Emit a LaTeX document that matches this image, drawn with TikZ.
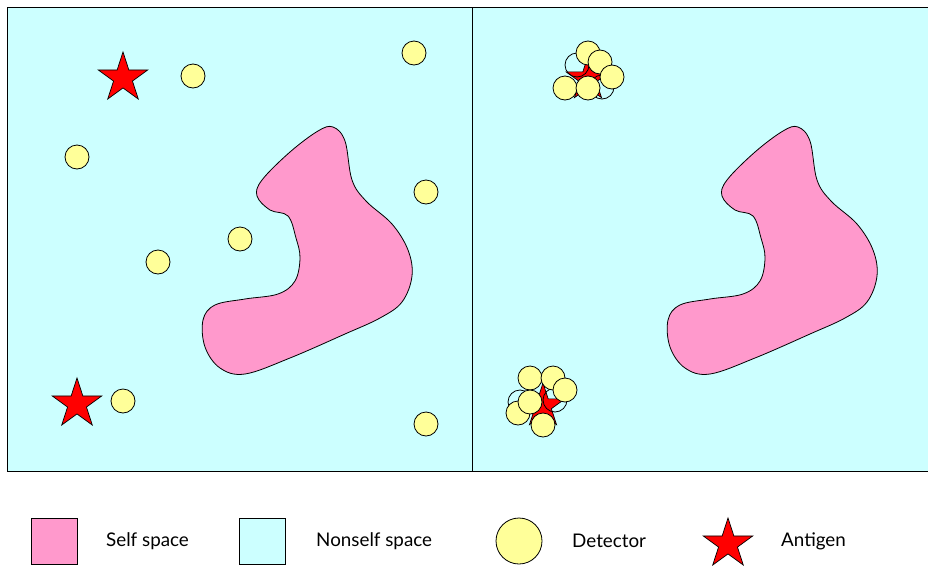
\documentclass[tikz,border=0pt]{standalone}
\usepackage{fontspec}
\setmainfont{Lato}
\usepackage{tikz}
\usetikzlibrary{shapes.geometric}

\definecolor{nonself}{HTML}{CCFFFF}
\definecolor{selfpink}{HTML}{FF99CC}
\definecolor{detyellow}{HTML}{FFFF99}

\tikzset{
  detector/.style={circle, draw, fill=detyellow, line width=0.8pt, inner sep=0pt, minimum size=24pt},
  ghost/.style={circle, draw, line width=0.8pt, inner sep=0pt, minimum size=24pt},
  antigen/.style={star, star points=5, star point ratio=2.618, draw, fill=red, line width=0.7pt, inner sep=0pt, minimum size=52pt},
  smallantigen/.style={antigen, minimum size=46pt},
  legendtext/.style={anchor=west, inner sep=0pt, font=\fontsize{18.8}{21}\selectfont}
}

% self region outline (left panel coordinates)
\def\selfblob{(333,127) (345,141) (352,180) (366,201) (392,224) (408,250) (412,276) (402,302) (380,318) (345,334) (290,358) (245,374) (220,368) (205,347) (203,320) (215,305) (245,299) (278,294) (295,281) (300,258) (296,238) (288,216) (270,210) (257,196) (262,180) (290,152) (318,131)}

\begin{document}
\begin{tikzpicture}[x=1pt, y=-1pt]
  \useasboundingbox (0,0) rectangle (928,565);

  % panels
  \fill[nonself] (7,7) rectangle (928,471);
  \draw[line width=1pt] (928,7) -- (7,7) -- (7,471) -- (928,471);
  \draw[line width=1pt] (472,7) -- (472,471);

  % self space, both panels
  \draw[fill=selfpink, line width=0.8pt] plot[smooth cycle, tension=0.6] coordinates {\selfblob};
  \draw[fill=selfpink, line width=0.8pt, xshift=465pt] plot[smooth cycle, tension=0.6] coordinates {\selfblob};

  % left panel: antigens and randomly spread detectors
  \node[antigen] (ag1) at (123,78) {};
  \node[antigen] (ag2) at (77,404) {};
  \node[detector] (d1) at (193,76) {};
  \node[detector] (d2) at (414,53) {};
  \node[detector] (d3) at (77,157) {};
  \node[detector] (d4) at (426,192) {};
  \node[detector] (d5) at (240,239) {};
  \node[detector] (d6) at (158,262) {};
  \node[detector] (d7) at (123,401) {};
  \node[detector] (d8) at (426,424) {};

  % right panel: detectors gathered round the antigens
  \node[smallantigen] (ag3) at (588,79) {};
  \node[ghost] (g1) at (577,65) {};
  \node[ghost] (g2) at (602,87) {};
  \node[detector] (c1) at (588,53) {};
  \node[detector] (c2) at (600,62) {};
  \node[detector] (c3) at (612,77) {};
  \node[detector] (c4) at (565,88) {};
  \node[detector] (c5) at (588,88) {};

  \node[smallantigen] (ag4) at (543,406) {};
  \node[ghost] (g3) at (520,402) {};
  \node[ghost] (g4) at (555,400) {};
  \node[detector] (e1) at (530,378) {};
  \node[detector] (e2) at (553,378) {};
  \node[detector] (e3) at (565,390) {};
  \node[detector] (e4) at (518,413) {};
  \node[detector] (e5) at (530,402) {};
  \node[detector] (e6) at (543,425) {};

  % legend
  \node[draw, fill=selfpink, line width=0.8pt, minimum size=46pt, inner sep=0pt] (lself) at (54,541) {};
  \node[legendtext] (tself) at (106,541) {Self space};
  \node[draw, fill=nonself, line width=0.8pt, minimum size=46pt, inner sep=0pt] (lnon) at (262,541) {};
  \node[legendtext] (tnon) at (316,541) {Nonself space};
  \node[detector, minimum size=46pt] (ldet) at (519,541) {};
  \node[legendtext] (tdet) at (572,541) {Detector};
  \node[antigen] (lag) at (728,544) {};
  \node[legendtext] (tag) at (781,541) {Antigen};

\end{tikzpicture}
\end{document}
